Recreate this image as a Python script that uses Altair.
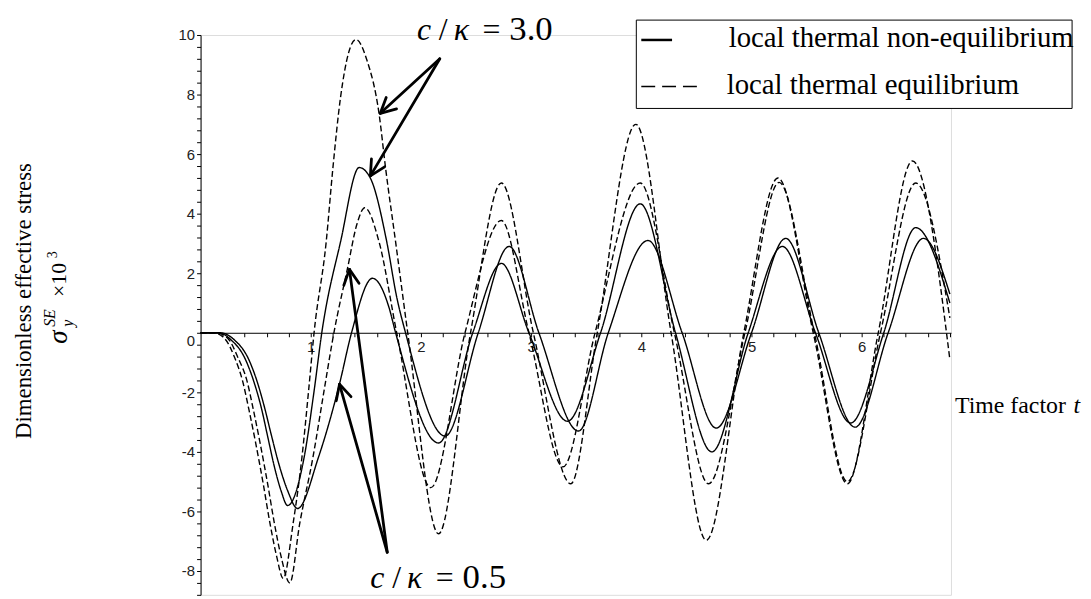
import math
import altair as alt
import pandas as pd

# ---------------- data ----------------
# local thermal equilibrium, c/kappa = 3.0 (dashed)
t_lte_30 = [0, 0.12, 0.22, 0.31, 0.38, 0.44, 0.50, 0.57, 0.63, 0.69,
            0.75, 0.84, 0.92, 0.98, 1.03, 1.14, 1.20, 1.27, 1.41, 1.51,
            1.62, 1.68, 1.77, 1.88, 2.16, 2.45, 2.73, 3.02, 3.36, 3.60,
            3.95, 4.27, 4.59, 4.93, 5.24, 5.56, 5.87, 6.15, 6.46, 6.80]
s_lte_30 = [0, 0, -0.2, -0.84, -1.6, -2.6, -3.7, -5.1, -6.4, -7.5,
            -8.25, -6.4, -4.18, -1.96, 0, 3.05, 5.5, 7.9, 9.85, 9.15,
            7.35, 5.5, 3.05, 0, -6.75, 0, 5.03, 0, -5.07, 0,
            7.0, 0, -6.97, 0, 5.2, 0, -5.07, 0, 5.77, -0.9]

# local thermal equilibrium, c/kappa = 0.5 (dashed)
t_lte_05 = [0, 0.14, 0.25, 0.34, 0.42, 0.48, 0.54, 0.61, 0.67, 0.73,
            0.81, 0.90, 1.02, 1.12, 1.21, 1.33, 1.42, 1.49, 1.62, 1.78,
            2.09, 2.40, 2.73, 2.98, 3.29, 3.58, 3.99, 4.30, 4.61, 4.94,
            5.25, 5.57, 5.87, 6.17, 6.49, 6.80]
s_lte_05 = [0, 0, -0.2, -0.84, -1.6, -2.6, -3.7, -5.1, -6.4, -7.5,
            -8.4, -6.4, -4.18, -1.96, 0, 2.1, 3.66, 4.2, 3.05, 0,
            -5.2, 0, 3.77, 0, -4.5, 0, 5.03, 0, -5.07, 0,
            5.05, 0, -5.0, 0, 5.03, 0.5]

# local thermal non-equilibrium, c/kappa = 3.0 (solid)
t_ltne_30 = [0, 0.16, 0.28, 0.40, 0.48, 0.55, 0.61, 0.67, 0.73, 0.79,
             0.94, 1.03, 1.10, 1.27, 1.44, 1.54, 1.69, 1.78, 1.86, 2.22,
             2.52, 2.80, 3.07, 3.43, 3.70, 4.06, 4.37, 4.68, 5.00, 5.31,
             5.61, 5.94, 6.24, 6.56, 6.80]
s_ltne_30 = [0, 0, -0.25, -0.84, -1.6, -2.5, -3.5, -4.5, -5.3, -5.8,
             -4.18, -1.96, 0, 3.05, 5.55, 5.2, 3.05, 1.2, 0, -3.47,
             0, 2.9, 0, -3.3, 0, 3.1, 0, -3.2, 0, 3.17,
             0, -3.17, 0, 3.17, 1.3]

# local thermal non-equilibrium, c/kappa = 0.5 (solid)
t_ltne_05 = [0, 0.18, 0.31, 0.43, 0.51, 0.58, 0.64, 0.71, 0.79, 0.88,
             1.07, 1.26, 1.37, 1.56, 1.71, 1.77, 2.16, 2.47, 2.73, 2.98,
             3.33, 3.63, 3.99, 4.31, 4.64, 4.97, 5.28, 5.58, 5.90, 6.20,
             6.49, 6.80]
s_ltne_05 = [0, 0, -0.25, -0.84, -1.6, -2.5, -3.4, -4.4, -5.3, -5.9,
             -4.18, -1.73, 0, 1.83, 0.85, 0, -3.7, 0, 2.33, 0,
             -2.97, 0, 4.33, 0, -4.0, 0, 2.9, 0, -3.03, 0,
             3.53, 1.0]

models = ["local thermal non-equilibrium", "local thermal equilibrium"]

# annotation arrows: (apex t, apex s) -> list of (tip t, tip s)
arrow_top_apex = (2.171, 9.2)
arrow_top_tips = [(1.631, 7.37), (1.541, 5.27)]
arrow_bot_apex = (1.694, -7.37)
arrow_bot_tips = [(1.351, 2.13), (1.261, -1.73)]

x_tick_values = [round(0.2 * i, 1) for i in range(1, 35)]
y_tick_values = [round(-8.8 + 0.4 * i, 1) for i in range(0, 48)]

# ---------------- build tables ----------------
curves = [
    ("LTE 3.0", models[1], t_lte_30, s_lte_30),
    ("LTE 0.5", models[1], t_lte_05, s_lte_05),
    ("LTNE 3.0", models[0], t_ltne_30, s_ltne_30),
    ("LTNE 0.5", models[0], t_ltne_05, s_ltne_05),
]
rows = []
for name, model, ts, ss in curves:
    for i, (t, s) in enumerate(zip(ts, ss)):
        rows.append({"t": t, "s": s, "curve": name, "model": model, "order": i})
df = pd.DataFrame(rows)

W, H = 756, 564
X_DOM = [0, 6.81]
Y_DOM = [-8.8, 10]
KX = W / (X_DOM[1] - X_DOM[0])
KY = H / (Y_DOM[1] - Y_DOM[0])
zero_px = (Y_DOM[1] - 0) * KY


def head_segments(tip, apex, length=17, ang=27):
    dx = (apex[0] - tip[0]) * KX
    dy = -(apex[1] - tip[1]) * KY
    n = math.hypot(dx, dy)
    ux, uy = dx / n, dy / n
    out = []
    for a in (ang, -ang):
        r = math.radians(a)
        px = ux * math.cos(r) - uy * math.sin(r)
        py = ux * math.sin(r) + uy * math.cos(r)
        out.append({"t": tip[0], "s": tip[1],
                    "t2": tip[0] + length * px / KX,
                    "s2": tip[1] - length * py / KY})
    return out


arrow_rows = []
for apex, tips in [(arrow_top_apex, arrow_top_tips), (arrow_bot_apex, arrow_bot_tips)]:
    for tip in tips:
        arrow_rows.append({"t": apex[0], "s": apex[1], "t2": tip[0], "s2": tip[1]})
        arrow_rows.extend(head_segments(tip, apex))
arrows_df = pd.DataFrame(arrow_rows)

xs = alt.Scale(domain=X_DOM, nice=False, zero=False)
ys = alt.Scale(domain=Y_DOM, nice=False, zero=False)

x_axis = alt.Axis(
    values=x_tick_values, orient="bottom", offset=zero_px - H, title=None,
    labelExpr="(abs(datum.value - round(datum.value)) < 0.001) ? ('' + round(datum.value)) : ''",
    tickSize=4, tickColor="black", domainColor="black", domainWidth=1,
    labelFont="Liberation Sans", labelFontSize=15, labelColor="#222",
    labelPadding=3, labelOverlap=False, labelFlush=False, grid=False,
)
y_axis = alt.Axis(
    values=y_tick_values, orient="left", title=None,
    labelExpr="(abs(datum.value / 2 - round(datum.value / 2)) < 0.001) ? ('' + round(datum.value)) : ''",
    tickSize=4, tickColor="black", domainColor="black", domainWidth=1,
    labelFont="Liberation Sans", labelFontSize=15, labelColor="#222",
    labelPadding=2, labelOverlap=False, labelFlush=False, grid=False,
    labelOffset={"condition": {"test": "datum.value == 0", "value": 8}, "value": 0},
)

lines = alt.Chart(df).mark_line(color="black", strokeWidth=1.4, interpolate="monotone").encode(
    x=alt.X("t:Q", scale=xs, axis=x_axis),
    y=alt.Y("s:Q", scale=ys, axis=y_axis),
    detail="curve:N",
    order="order:Q",
    strokeDash=alt.StrokeDash("model:N", scale=alt.Scale(domain=models, range=[[1, 0], [6, 3]]), legend=None),
)

arrows = alt.Chart(arrows_df).mark_rule(color="black", strokeWidth=2.8, strokeCap="round").encode(
    x=alt.X("t:Q", scale=xs, axis=x_axis),
    y=alt.Y("s:Q", scale=ys, axis=y_axis),
    x2="t2:Q",
    y2="s2:Q",
)

one = pd.DataFrame({"k": [0]})
OX, OY = 202, 33  # page position of the plot origin


def txt(s, px, py, size, italic=False, angle=0, align="left", font="Liberation Serif"):
    return alt.Chart(one).mark_text(
        text=s, fontSize=size, font=font, fontStyle="italic" if italic else "normal",
        angle=angle, align=align, baseline="alphabetic", color="black",
    ).encode(x=alt.value(px - OX), y=alt.value(py - OY))


texts = []
# y title
texts.append(txt("Dimensionless effective stress", 31, 301, 23, angle=270, align="center"))
texts.append(txt("σ", 67, 344, 27, italic=True, angle=270))
texts.append(txt("y", 73, 327, 16, italic=True, angle=270))
texts.append(txt("SE", 55, 327, 16, italic=True, angle=270))
texts.append(txt("×10", 66, 297, 22, angle=270))
texts.append(txt("3", 57, 258, 14, angle=270))
# x title
texts.append(txt("Time factor", 962, 414, 24))
texts.append(txt("t", 1088, 414, 24, italic=True, align="right"))
# c / kappa labels
for base_x, base_y, val in [(420, 38, "3.0"), (373, 590, "0.5")]:
    texts.append(txt("c", base_x, base_y, 32, italic=True))
    texts.append(txt("/", base_x + 22, base_y, 32))
    texts.append(txt("κ", base_x + 37, base_y, 32, italic=True))
    texts.append(txt("=", base_x + 66, base_y, 32))
    texts.append(txt(val, base_x + 93, base_y, 35))

# legend (drawn box)
legend_box = alt.Chart(one).mark_rect(fill="white", stroke="black", strokeWidth=1).encode(
    x=alt.value(641 - OX), x2=alt.value(1080 - OX), y=alt.value(18 - OY), y2=alt.value(107 - OY)
)
legend_solid = alt.Chart(one).mark_rule(color="black", strokeWidth=2.5).encode(
    x=alt.value(646 - OX), x2=alt.value(677 - OX), y=alt.value(38 - OY)
)
legend_dash = alt.Chart(one).mark_rule(color="black", strokeWidth=1.5, strokeDash=[14, 7]).encode(
    x=alt.value(646 - OX), x2=alt.value(702 - OX), y=alt.value(85 - OY)
)
texts.append(txt(models[0], 734, 45, 29))
texts.append(txt(models[1], 732, 92, 29))

chart = alt.layer(lines, arrows, legend_box, legend_solid, legend_dash, *texts).properties(
    width=W, height=H,
    autosize=alt.AutoSizeParams(type="none"),
    padding={"left": OX - 8, "top": OY - 8, "right": 1083 - (OX - 8) - W, "bottom": 2},
).configure_view(strokeWidth=0).configure(background="white")

chart.save("out.html", embed_options={"renderer": "svg", "actions": False})
